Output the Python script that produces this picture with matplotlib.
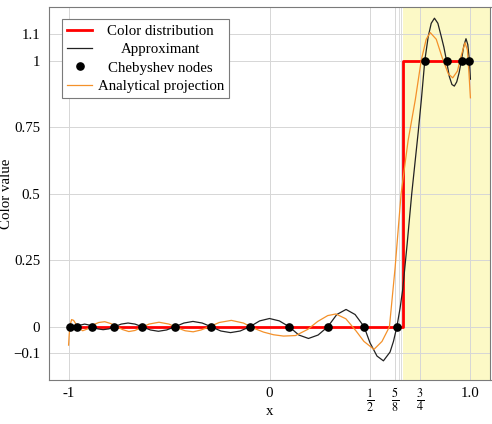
import matplotlib
matplotlib.use("Agg")
import matplotlib.pyplot as plt

# ---------------- data ----------------
node_x = [-0.995, -0.957, -0.882, -0.773, -0.634, -0.471, -0.290, -0.098,
          0.098, 0.290, 0.471, 0.634, 0.773, 0.882, 0.957, 0.995]
node_y = [0, 0, 0, 0, 0, 0, 0, 0, 0, 0, 0, 0, 1, 1, 1, 1]

step_x = [-1.0, 0.6667, 0.6667, 1.0]
step_y = [0.0, 0.0, 1.0, 1.0]

approx_x = [-1.0, -0.995, -0.986, -0.976, -0.967, -0.957, -0.938, -0.920, -0.901,
            -0.882, -0.855, -0.828, -0.800, -0.773, -0.738, -0.704, -0.669,
            -0.634, -0.593, -0.553, -0.512, -0.471, -0.426, -0.381, -0.335,
            -0.290, -0.242, -0.194, -0.146, -0.098, -0.049, 0.0, 0.049,
            0.098, 0.146, 0.194, 0.242, 0.290, 0.335, 0.381, 0.426,
            0.471, 0.500, 0.535, 0.567, 0.600, 0.617, 0.634, 0.650, 0.663,
            0.685, 0.708, 0.740, 0.756, 0.773, 0.790, 0.805, 0.821, 0.838,
            0.855, 0.868, 0.881, 0.895, 0.908, 0.920, 0.932, 0.944, 0.955,
            0.967, 0.978, 0.987, 0.995, 1.0]
approx_y = [0.006, 0.0, -0.0035, -0.005, -0.0035, 0.0, 0.007, 0.010, 0.007,
            0.0, -0.008, -0.011, -0.008, 0.0, 0.010, 0.014, 0.010,
            0.0, -0.012, -0.017, -0.012, 0.0, 0.014, 0.020, 0.014,
            0.0, -0.016, -0.022, -0.016, 0.0, 0.022, 0.031, 0.022,
            0.0, -0.031, -0.044, -0.031, 0.0, 0.046, 0.065, 0.046,
            0.0, -0.060, -0.110, -0.128, -0.095, -0.055, 0.0, 0.070, 0.140,
            0.310, 0.500, 0.730, 0.854, 1.0, 1.090, 1.140, 1.159, 1.140,
            1.090, 1.050, 1.0, 0.940, 0.910, 0.904, 0.920, 0.955, 1.0,
            1.055, 1.082, 1.060, 1.0, 0.930]

proj_x = [-1.0, -0.997, -0.993, -0.985, -0.975, -0.965, -0.950, -0.930, -0.905,
          -0.875, -0.850, -0.820, -0.790, -0.760, -0.730, -0.700, -0.670,
          -0.640, -0.600, -0.550, -0.500, -0.460, -0.420, -0.380, -0.340,
          -0.300, -0.250, -0.190, -0.130, -0.080, -0.030, 0.020, 0.070,
          0.130, 0.190, 0.240, 0.290, 0.330, 0.380, 0.430, 0.470, 0.520,
          0.560, 0.597, 0.625, 0.655, 0.690, 0.726, 0.755, 0.780, 0.800,
          0.830, 0.860, 0.890, 0.912, 0.935, 0.955, 0.973, 0.985, 0.993, 1.0]
proj_y = [-0.069, -0.030, 0.005, 0.027, 0.024, 0.012, -0.004, -0.015, -0.008,
          0.008, 0.016, 0.019, 0.012, 0.000, -0.011, -0.018, -0.014,
          -0.004, 0.010, 0.017, 0.010, -0.004, -0.015, -0.019, -0.012,
          0.000, 0.016, 0.024, 0.014, -0.005, -0.020, -0.030, -0.035,
          -0.033, -0.010, 0.020, 0.042, 0.048, 0.030, -0.015, -0.055, -0.085,
          -0.055, 0.0, 0.220, 0.500, 0.700, 0.854, 1.0, 1.080, 1.105,
          1.080, 1.010, 0.950, 0.935, 0.960, 1.020, 1.067, 1.040, 0.950, 0.860]

shade_start = 0.6667
faint_vlines = [0.645, 0.657]

xticks = [-1, 0, 0.5, 0.625, 0.75, 1.0]
xtick_labels = ["-1", "0", r"$\frac{1}{2}$", r"$\frac{5}{8}$", r"$\frac{3}{4}$", "1.0"]
yticks = [-0.1, 0, 0.25, 0.5, 0.75, 1, 1.1]
ytick_labels = ["\u22120.1", "0", "0.25", "0.5", "0.75", "1", "1.1"]

# ---------------- style ----------------
plt.rcParams["font.family"] = ["Liberation Serif", "DejaVu Serif"]
plt.rcParams["mathtext.fontset"] = "stix"
FS = 10.7

fig = plt.figure(figsize=(4.92, 4.24), dpi=100)
ax = fig.add_axes([48.5 / 492, 1 - 380 / 424, (490.5 - 48.5) / 492, (380 - 7.3) / 424])

ax.set_xlim(-1.1, 1.1)
ax.set_ylim(-0.2, 1.2)

ax.axvspan(shade_start, 1.2, color="#fcf9c6", zorder=0, lw=0)
for v in faint_vlines:
    ax.axvline(v, color="#dcdcdc", lw=0.7, zorder=0.5)

ax.set_axisbelow(True)
ax.grid(True, color="#d6d6d6", lw=0.7)

ax.plot(step_x, step_y, color="#ff0000", lw=2.0, zorder=3, label="Color distribution")
ax.plot(approx_x, approx_y, color="#222222", lw=0.9, zorder=4, label="Approximant")
ax.plot(node_x, node_y, "o", color="black", ms=5.2, zorder=6, label="Chebyshev nodes")
ax.plot(proj_x, proj_y, color="#f4912a", lw=0.9, zorder=5, label="Analytical projection")

ax.set_xticks(xticks)
ax.set_xticklabels(xtick_labels, fontsize=FS)
for lbl, txt in zip(ax.get_xticklabels(), xtick_labels):
    lbl.set_verticalalignment("top")
    if txt.startswith("$"):
        lbl.set_fontsize(12.5)
ax.set_yticks(yticks)
ax.set_yticklabels(ytick_labels, fontsize=FS)
ax.tick_params(axis="y", length=0, pad=6)
ax.tick_params(axis="x", length=0, pad=5)
for s in ax.spines.values():
    s.set_color("#7a7a7a")
    s.set_linewidth(0.8)

ax.set_xlabel("x", fontsize=FS)
ax.xaxis.set_label_coords(0.5, -0.068)
fig.text(6.5 / 492, (1 - (7.3 + 380) / 2 / 424), "Color value", rotation=90,
         ha="center", va="center", fontsize=FS)

leg = ax.legend(loc="upper left", bbox_to_anchor=(0.0305, 0.9678), borderaxespad=0,
                fontsize=FS, fancybox=False, edgecolor="#7a7a7a", framealpha=1,
                handlelength=1.7, handletextpad=0.35, labelspacing=0.33, borderpad=0.35)
leg.get_frame().set_linewidth(0.8)
fig.canvas.draw()
widths = [t.get_window_extent().width for t in leg.get_texts()]
shift = max(widths)
for t, w in zip(leg.get_texts(), widths):
    t.set_position(((shift - w) / 2, 0))

fig.savefig("out.png", dpi=100)
